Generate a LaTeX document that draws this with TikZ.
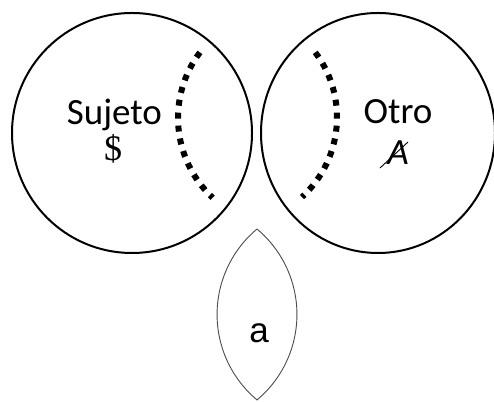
\documentclass[tikz,border=0pt]{standalone}
\usepackage{fontspec}
\setmainfont{Carlito}
\newfontfamily\serifA{Liberation Serif}
\newfontfamily\arialA{Liberation Sans}
\begin{document}
\begin{tikzpicture}[x=1pt,y=1pt,
  ring/.style={draw=black,line width=2pt},
  dotarc/.style={draw=black,line width=6pt,dash pattern=on 6pt off 7pt},
  lens/.style={draw=black!70,line width=0.9pt},
  lbl/.style={inner sep=0pt,anchor=base,font=\fontsize{37}{40}\selectfont},
]
\useasboundingbox (0,0) rectangle (494,401);
\fill[white] (0,0) rectangle (494,401);
% circles
\draw[ring] (132,268) circle [radius=120];
\draw[ring] (378,268) ellipse [x radius=117, y radius=120];
% dotted arcs
\draw[dotarc] (287,283) ++(143:109) arc [start angle=143, end angle=227, radius=109];
\draw[dotarc] (229,283.6) ++(37:108) arc [start angle=37, end angle=-47.5, radius=108];
% lens
\coordinate (ltop) at (257,172);
\coordinate (lbot) at (257,1);
\draw[lens] (ltop) arc [start angle=129.9, end angle=230.1, radius=111.4]
            arc [start angle=-50.1, end angle=50.1, radius=111.4];
% labels
\node[lbl] (suj) at (114.5,276) {Sujeto};
\node[lbl,font=\serifA\fontsize{36}{40}\selectfont] (dol) at (113,240) {\$};
\node[lbl] (otro) at (398,277) {Otro};
\node[lbl,font=\itshape\fontsize{37}{40}\selectfont] (A) at (398,236) {A};
\draw[line width=0.9pt] ([shift={(-18,-3)}]A.base) -- ([shift={(10,23)}]A.base);
\node[lbl,font=\arialA\fontsize{35}{40}\selectfont] (a) at (259,59) {a};
\end{tikzpicture}
\end{document}
